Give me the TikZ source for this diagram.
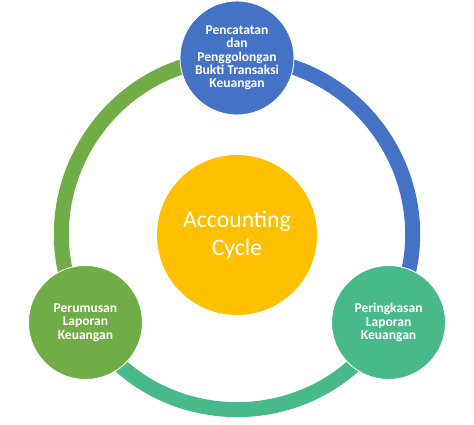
\documentclass[tikz,border=0pt]{standalone}
\usepackage{fontspec}
\setmainfont{Carlito}
\usetikzlibrary{positioning, backgrounds}
\definecolor{cycleBlue}{HTML}{4472C4}
\definecolor{cycleGreen}{HTML}{70AD47}
\definecolor{cycleTeal}{HTML}{48BA89}
\definecolor{cycleGold}{HTML}{FFC000}
\tikzstyle{stage} = [circle, draw=white, line width=0.5pt, text=white,
   minimum size=2.28cm, inner sep=0pt, align=center,
   font=\bfseries\fontsize{7.7}{7.6}\selectfont]
\tikzstyle{ring} = [line width=0.3cm, bend left=60, looseness=1.135]

\begin{document}
\begin{tikzpicture}
  \useasboundingbox (0,0) rectangle (9.48,8.5);
  \coordinate (mid) at (4.74,3.80);
  \node[circle, fill=cycleGold, text=white, minimum size=3.2cm, align=center,
    font=\fontsize{13.5}{16}\selectfont] (acc) at (mid) {Accounting\\Cycle};
  \node[stage, fill=cycleBlue] (rec) at ([shift={(90:3.54)}]mid)
    {Pencatatan\\dan\\Penggolongan\\Bukti Transaksi\\Keuangan};
  \node[stage, fill=cycleTeal] (sum) at ([shift={(-30:3.5)}]mid)
    {Peringkasan\\Laporan\\Keuangan};
  \node[stage, fill=cycleGreen] (rep) at ([shift={(210:3.5)}]mid)
    {Perumusan\\Laporan\\Keuangan};
  \begin{scope}[on background layer]
    \draw[ring, cycleGreen] (rep.center) to (rec.center);
    \draw[ring, cycleBlue] (rec.center) to (sum.center);
    \draw[ring, cycleTeal] (sum.center) to (rep.center);
  \end{scope}
\end{tikzpicture}
\end{document}
